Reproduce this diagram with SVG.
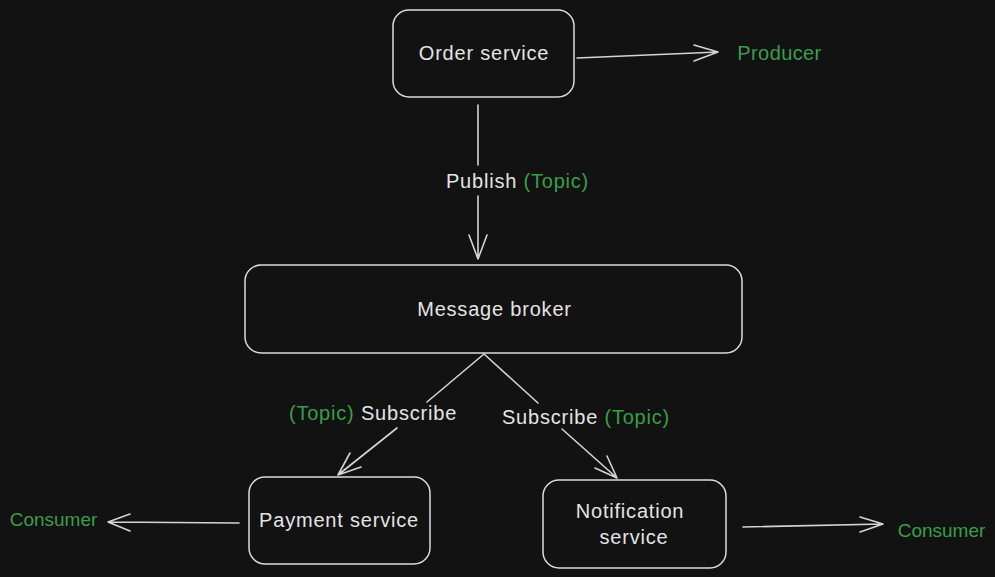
<svg xmlns="http://www.w3.org/2000/svg" width="995" height="577" viewBox="0 0 995 577">
<defs>
<style>
.box{fill:#121212;stroke:#dcdcdc;stroke-width:1.5}
.ln{fill:none;stroke:#d4d4d4;stroke-width:1.6;stroke-linecap:round;stroke-linejoin:round}
.t{font-family:"Liberation Sans",Arial,sans-serif;font-size:20px;letter-spacing:0.8px;fill:#e4e4e4;text-anchor:middle;dominant-baseline:central}
.g{fill:#3a9e48}
.c{font-size:19px;letter-spacing:0px}
</style>
</defs>
<rect width="995" height="577" fill="#121212"/>
<g id="connectors">
<path class="ln" d="M577 58 L718 52 M694 45 L718 52 L694 61"/>
<path class="ln" d="M478 105 L478 165 M478 196 L478 259 M469 235 L478 259 L487 235"/>
<path class="ln" d="M484 354 L427 402 M397 428 L338 475 M350 453 L338 475 L361 467"/>
<path class="ln" d="M484 354 L538 403 M562 429 L617 478 M595 468 L617 478 L607 456"/>
<path class="ln" d="M239 523 L108 522 M130 514 L108 522 L130 531"/>
<path class="ln" d="M743 527 L883 524 M860 517 L883 524 L860 532"/>
</g>
<g id="order-service">
<rect class="box" x="393" y="10" width="181" height="87" rx="16"/>
<text class="t" x="484" y="53">Order service</text>
</g>
<g id="message-broker">
<rect class="box" x="245" y="265" width="497" height="88" rx="16"/>
<text class="t" x="494.5" y="309">Message broker</text>
</g>
<g id="payment-service">
<rect class="box" x="249" y="477" width="181" height="87" rx="16"/>
<text class="t" x="339" y="520">Payment service</text>
</g>
<g id="notification-service">
<rect class="box" x="543" y="480" width="183" height="88" rx="16"/>
<text class="t" x="630" y="511">Notification</text>
<text class="t" x="634" y="537">service</text>
</g>
<g id="labels">
<text class="t g" x="779.5" y="53" style="letter-spacing:0.4px">Producer</text>
<text class="t" x="517.5" y="181"><tspan>Publish</tspan> <tspan class="g">(Topic)</tspan></text>
<text class="t" x="373" y="413"><tspan class="g">(Topic)</tspan> <tspan>Subscribe</tspan></text>
<text class="t" x="586" y="417"><tspan>Subscribe</tspan> <tspan class="g">(Topic)</tspan></text>
<text class="t g c" x="53.5" y="519">Consumer</text>
<text class="t g c" x="941.5" y="530">Consumer</text>
</g>
</svg>
